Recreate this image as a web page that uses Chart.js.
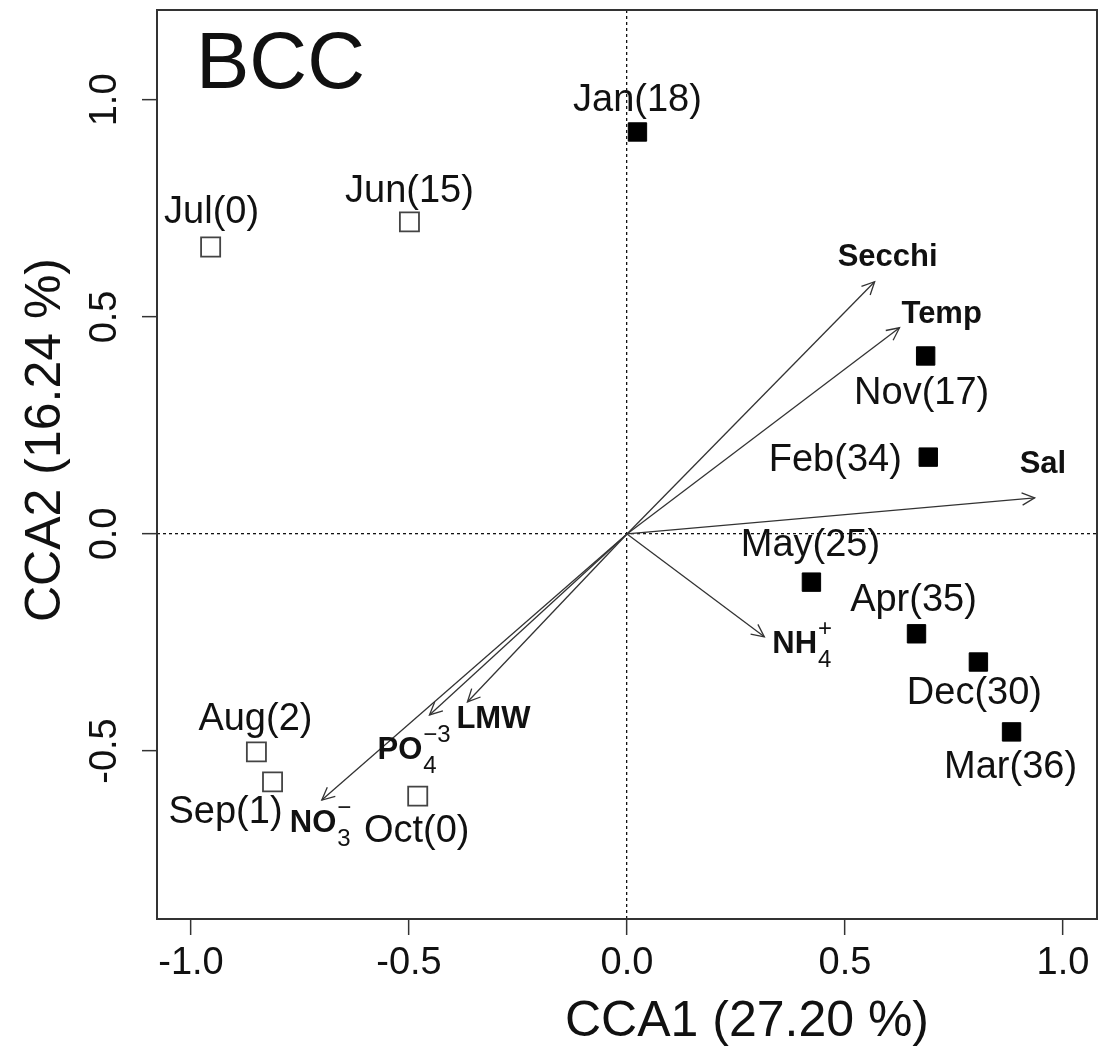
<!DOCTYPE html>
<html>
<head>
<meta charset="utf-8">
<script src="https://cdn.jsdelivr.net/npm/chart.js@4.4.1/dist/chart.umd.min.js"></script>
<style>
  body { margin: 0; background: #fff; }
  canvas { display: block; }
</style>
</head>
<body>
<canvas id="graficoCCA" width="1100" height="1056"></canvas>
<script>
// sample scores (months), number in brackets is part of the label
const meses = ['Jan(18)', 'Jun(15)', 'Jul(0)', 'Nov(17)', 'Feb(34)', 'May(25)', 'Apr(35)', 'Dec(30)', 'Mar(36)', 'Aug(2)', 'Sep(1)', 'Oct(0)'];
const cca1 = [0.024, -0.499, -0.955, 0.685, 0.691, 0.423, 0.664, 0.806, 0.882, -0.850, -0.813, -0.480];
const cca2 = [0.926, 0.719, 0.661, 0.410, 0.177, -0.111, -0.230, -0.295, -0.456, -0.502, -0.571, -0.604];
const relleno = [true, false, false, true, true, true, true, true, true, false, false, false];

// environmental vectors (arrow tips)
const variables = ['Secchi', 'Temp', 'Sal', 'NH4', 'LMW', 'PO4', 'NO3'];
const flechaX = [0.568, 0.625, 0.935, 0.315, -0.366, -0.453, -0.700];
const flechaY = [0.581, 0.475, 0.083, -0.237, -0.387, -0.417, -0.613];

const ticksEje = [-1.0, -0.5, 0.0, 0.5, 1.0];

// label placement (pixels from the point / arrow tip)
const offsetMes = [[0, -31], [0, -30], [1, -35], [-4, 38], [-93, 3], [-1, -37], [-3, -33], [-4, 32], [-1, 36], [-1, -32], [-47, 31], [-1, 35]];
const offsetVar = [[-37, -24], [2, -13], [-15, -33], [8, 8], [-11, 18], [-52, 35], [-32, 23]];
// main text, subscript, superscript
const textoVar = [['Secchi', '', ''], ['Temp', '', ''], ['Sal', '', ''], ['NH', '4', '+'], ['LMW', '', ''], ['PO', '4', '\u22123'], ['NO', '3', '\u2212']];

const fuente = '"Liberation Sans", Arial, Helvetica, sans-serif';

const puntosLlenos = [];
const puntosVacios = [];
meses.forEach((m, i) => {
  const p = { x: cca1[i], y: cca2[i] };
  if (relleno[i]) puntosLlenos.push(p); else puntosVacios.push(p);
});

const datasets = [
  {
    label: 'llenos', data: puntosLlenos,
    pointStyle: 'rect', pointRadius: 13, backgroundColor: '#000', borderColor: '#000', borderWidth: 1
  },
  {
    label: 'vacios', data: puntosVacios,
    pointStyle: 'rect', pointRadius: 13.5, backgroundColor: '#fff', borderColor: '#444', borderWidth: 1.8
  }
];
variables.forEach((v, i) => {
  datasets.push({
    label: v, data: [{ x: 0, y: 0 }, { x: flechaX[i], y: flechaY[i] }],
    showLine: true, pointRadius: 0, borderColor: '#333', borderWidth: 1.3, fill: false, esFlecha: true
  });
});

const fmt = (v) => (Math.abs(v) < 1e-9 ? 0 : v).toFixed(1);
const colorCero = (c) => (c.tick && Math.abs(c.tick.value) < 1e-9) ? '#111' : 'rgba(0,0,0,0)';
const sinPadding = (s) => { s.paddingTop = 0; s.paddingBottom = 0; s.paddingLeft = 0; s.paddingRight = 0; };

const pluginDibujo = {
  id: 'dibujoCCA',
  afterDatasetsDraw(chart) {
    const ctx = chart.ctx;
    ctx.save();
    ctx.strokeStyle = '#333';
    ctx.lineWidth = 1.3;
    chart.data.datasets.forEach((ds, i) => {
      if (!ds.esFlecha) return;
      const pts = chart.getDatasetMeta(i).data;
      const a = pts[0], b = pts[1];
      const ang = Math.atan2(b.y - a.y, b.x - a.x);
      const L = 14, w = 0.45;
      ctx.beginPath();
      ctx.moveTo(b.x - L * Math.cos(ang - w), b.y - L * Math.sin(ang - w));
      ctx.lineTo(b.x, b.y);
      ctx.lineTo(b.x - L * Math.cos(ang + w), b.y - L * Math.sin(ang + w));
      ctx.stroke();
    });
    ctx.restore();
  },
  afterDraw(chart) {
    const ctx = chart.ctx;
    const { left, right, top, bottom } = chart.chartArea;
    const sx = chart.scales.x, sy = chart.scales.y;
    ctx.save();
    // box
    ctx.strokeStyle = '#333';
    ctx.lineWidth = 2;
    ctx.strokeRect(left, top, right - left, bottom - top);

    // month labels
    ctx.fillStyle = '#111';
    ctx.font = '38px ' + fuente;
    ctx.textAlign = 'center';
    ctx.textBaseline = 'middle';
    meses.forEach((m, i) => {
      const px = sx.getPixelForValue(cca1[i]) + offsetMes[i][0];
      const py = sy.getPixelForValue(cca2[i]) + offsetMes[i][1];
      ctx.fillText(m, px, py);
    });

    // variable labels
    ctx.textAlign = 'left';
    variables.forEach((v, i) => {
      const [t, sub, sup] = textoVar[i];
      const px = sx.getPixelForValue(flechaX[i]) + offsetVar[i][0];
      const py = sy.getPixelForValue(flechaY[i]) + offsetVar[i][1];
      ctx.font = 'bold 31px ' + fuente;
      ctx.fillText(t, px, py);
      const w = ctx.measureText(t).width;
      ctx.font = '24px ' + fuente;
      if (sub) ctx.fillText(sub, px + w + 1, py + 16);
      if (sup) ctx.fillText(sup, px + w + 1, py - 15);
    });

    // panel title
    ctx.font = '80px ' + fuente;
    ctx.textBaseline = 'alphabetic';
    ctx.fillText('BCC', 196, 88);

    // axis titles
    ctx.font = '50px ' + fuente;
    ctx.textAlign = 'center';
    ctx.textBaseline = 'middle';
    ctx.fillText('CCA1 (27.20 %)', 747, 1022);
    ctx.translate(46, 440);
    ctx.rotate(-Math.PI / 2);
    ctx.fillText('CCA2 (16.24 %)', 0, 0);
    ctx.restore();
  }
};

const ctxCCA = document.getElementById('graficoCCA').getContext('2d');
const graficoCCA = new Chart(ctxCCA, {
  type: 'scatter',
  data: { datasets: datasets },
  options: {
    responsive: false,
    animation: false,
    events: [],
    layout: { autoPadding: false, padding: { top: 10, right: 3, left: 0, bottom: 0 } },
    plugins: { legend: { display: false }, tooltip: { enabled: false } },
    scales: {
      x: {
        type: 'linear', min: -1.078, max: 1.078,
        afterFit: (s) => { s.height = 137; sinPadding(s); },
        afterBuildTicks: (s) => { s.ticks = ticksEje.map(v => ({ value: v })); },
        ticks: { font: { size: 38, family: fuente }, color: '#111', padding: 6, maxRotation: 0, autoSkip: false, callback: fmt },
        grid: { color: colorCero, lineWidth: 1.3, tickLength: 16, tickColor: '#333', tickWidth: 1.5 },
        border: { display: false, dash: [3, 3] }
      },
      y: {
        type: 'linear', min: -0.887, max: 1.207,
        afterFit: (s) => { s.width = 157; sinPadding(s); },
        afterBuildTicks: (s) => { s.ticks = ticksEje.filter(v => v >= -0.887 && v <= 1.207).map(v => ({ value: v })); },
        ticks: { font: { size: 38, family: fuente }, color: '#111', padding: 4, minRotation: 90, maxRotation: 90, crossAlign: 'center', autoSkip: false, callback: fmt },
        grid: { color: colorCero, lineWidth: 1.3, tickLength: 15, tickColor: '#333', tickWidth: 1.5 },
        border: { display: false, dash: [3, 3] }
      }
    }
  },
  plugins: [pluginDibujo]
});
</script>
</body>
</html>
